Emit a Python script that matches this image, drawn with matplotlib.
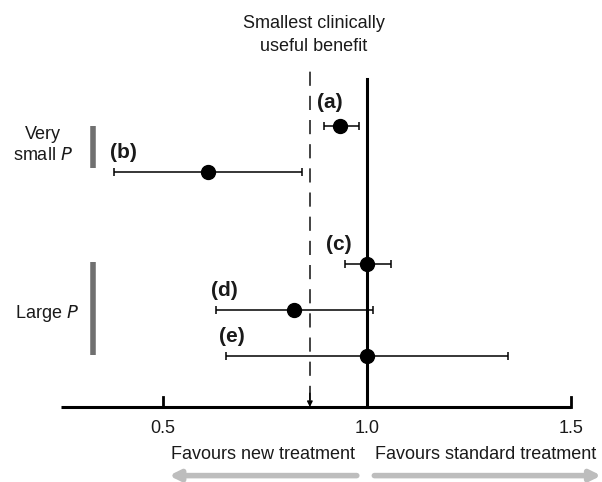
import matplotlib
matplotlib.use('Agg')
import matplotlib.pyplot as plt

plt.rcParams['font.family'] = ['Liberation Sans', 'DejaVu Sans']

labels = ['(a)', '(b)', '(c)', '(d)', '(e)']
estimate = [0.935, 0.61, 1.0, 0.82, 1.0]
lower = [0.895, 0.38, 0.945, 0.63, 0.655]
upper = [0.98, 0.84, 1.06, 1.015, 1.345]
rows = [6, 5, 3, 2, 1]
threshold = 0.86
ticks = [0.5, 1.0, 1.5]

txt = '#1a1a1a'
fig = plt.figure(figsize=(6.02, 4.82), dpi=100)
ax = fig.add_axes([0, 0, 1, 1])
ax.set_xlim(0.1005, 1.576)
ax.set_ylim(-1.739, 8.739)
ax.axis('off')

axis_y = -0.109
# x axis
ax.plot([0.25, 1.5], [axis_y, axis_y], color='black', lw=2.2, solid_capstyle='butt')
for t in ticks:
    ax.plot([t, t], [axis_y, axis_y + 0.22], color='black', lw=2)
    ax.text(t, axis_y - 0.47, f'{t:.1f}', ha='center', va='center', fontsize=13, color=txt)

# line of no effect
ax.plot([1.0, 1.0], [axis_y, 7.02], color='black', lw=2.2)

# smallest clinically useful benefit
ax.plot([threshold, threshold], [axis_y + 0.15, 7.33], color='#222222', lw=1.2,
        dashes=(8.5, 6))
ax.annotate('', xy=(threshold, axis_y), xytext=(threshold, axis_y + 0.3),
            arrowprops=dict(arrowstyle='-|>', color='black', lw=1,
                            mutation_scale=8, shrinkA=0, shrinkB=0))
ax.text(threshold + 0.01, 7.98, 'Smallest clinically\nuseful benefit', ha='center',
        va='center', fontsize=13, linespacing=1.4, color=txt)

# confidence intervals
for lab, est, lo, hi, r in zip(labels, estimate, lower, upper, rows):
    ax.errorbar(est, r, xerr=[[est - lo], [hi - est]], fmt='o', color='black',
                ms=10, elinewidth=1.1, capsize=3, capthick=1.1)

label_pos = {'(a)': (0.909, 6.52), '(b)': (0.402, 5.43), '(c)': (0.93, 3.43),
             '(d)': (0.65, 2.42), '(e)': (0.67, 1.43)}
for lab in labels:
    x, y = label_pos[lab]
    ax.text(x, y, lab, ha='center', va='center', fontsize=15, fontweight='bold', color=txt)

# P-value groups
ax.plot([0.3285, 0.3285], [5.08, 6.0], color='#707070', lw=4, solid_capstyle='butt')
ax.plot([0.3285, 0.3285], [1.02, 3.04], color='#707070', lw=4, solid_capstyle='butt')
ax.text(0.205, 5.59, 'Very\nsmall $\\it{P}$', ha='center', va='center', fontsize=13,
        linespacing=1.35, color=txt)
ax.text(0.216, 1.93, 'Large $\\it{P}$', ha='center', va='center', fontsize=13, color=txt)

# favours labels and arrows
ax.text(0.745, -1.14, 'Favours new treatment', ha='center', va='center', fontsize=13, color=txt)
ax.text(1.29, -1.14, 'Favours standard treatment', ha='center', va='center', fontsize=13,
        color=txt)
ax.annotate('', xy=(0.515, -1.6), xytext=(0.975, -1.6),
            arrowprops=dict(arrowstyle='-|>', color='#bdbdbd', lw=4,
                            mutation_scale=15, shrinkA=0, shrinkB=0))
ax.annotate('', xy=(1.574, -1.6), xytext=(1.018, -1.6),
            arrowprops=dict(arrowstyle='-|>', color='#bdbdbd', lw=4,
                            mutation_scale=15, shrinkA=0, shrinkB=0))

fig.savefig('out.png', dpi=100)
